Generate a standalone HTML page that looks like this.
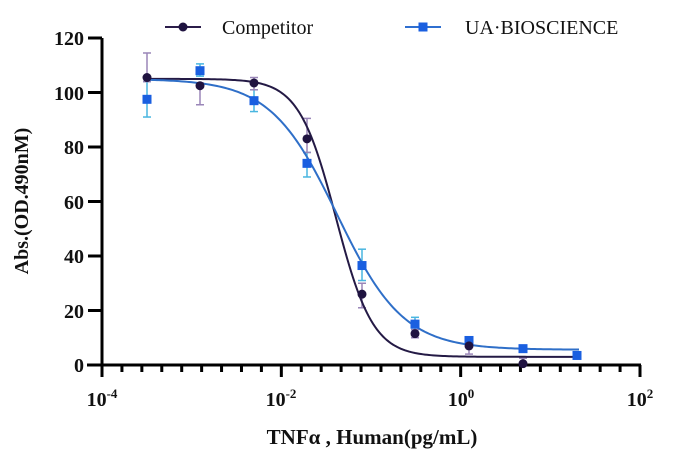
<!DOCTYPE html>
<html><head><meta charset="utf-8"><style>
html,body{margin:0;padding:0;background:#fff;}
svg{display:block;}
</style></head><body>
<svg id="s" width="682" height="466" xmlns="http://www.w3.org/2000/svg" font-family="Liberation Serif, serif">
<rect width="682" height="466" fill="#fff"/>
<g id="ax" stroke="#000" stroke-width="3" fill="none"></g>
<g font-weight="bold" font-size="20" text-anchor="end" fill="#111">
<text x="84" y="45">120</text><text x="84" y="100">100</text><text x="84" y="154">80</text>
<text x="84" y="209">60</text><text x="84" y="263">40</text><text x="84" y="318">20</text><text x="84" y="372">0</text>
</g>
<g font-weight="bold" font-size="20" fill="#111" text-anchor="middle">
<text x="102" y="406">10<tspan font-size="13" dy="-8">-4</tspan></text>
<text x="281" y="406">10<tspan font-size="13" dy="-8">-2</tspan></text>
<text x="461" y="406">10<tspan font-size="13" dy="-8">0</tspan></text>
<text x="640" y="406">10<tspan font-size="13" dy="-8">2</tspan></text>
<text x="372" y="444" font-size="21">TNFα , Human(pg/mL)</text>
<text transform="translate(28,201) rotate(-90)">Abs.(OD.490nM)</text>
</g>
<g font-size="20" fill="#111">
<line x1="165" y1="27" x2="201" y2="27" stroke="#2b1d4a" stroke-width="2"/>
<circle cx="183" cy="27" r="4.5" fill="#1f1340"/>
<text x="222" y="34">Competitor</text>
<line x1="405" y1="27" x2="441" y2="27" stroke="#2f6fd0" stroke-width="2"/>
<rect x="418.5" y="22.5" width="9" height="9" fill="#1a5fe0"/>
<text x="465" y="34">UA·BIOSCIENCE</text>
</g>
<g id="data"></g>
</svg>
<script>
var ns="http://www.w3.org/2000/svg";
function Y(v){return 365-v*2.725;}
function el(p,t,a){var e=document.createElementNS(ns,t);for(var k in a)e.setAttribute(k,a[k]);p.appendChild(e);return e;}
var ax=document.getElementById('ax');
el(ax,'line',{x1:102,y1:38,x2:102,y2:366});
el(ax,'line',{x1:87,y1:365,x2:641,y2:365});
for(var v=0;v<=120;v+=20)el(ax,'line',{x1:88,y1:Y(v),x2:102,y2:Y(v)});
for(var i=0;i<=27;i++){var x=102+i*538/27;var maj=(i%9==0);el(ax,'line',{x1:x,y1:365,x2:x,y2:maj?377:372});}
var d=document.getElementById('data');
function curve(top,bot,c,h,col){var p='';for(var x=147;x<=579;x+=2){var v=bot+(top-bot)/(1+Math.pow(10,(x-c)*h/89.5));p+=(x==147?'M':'L')+x+','+Y(v).toFixed(2);}el(d,'path',{d:p,stroke:col,'stroke-width':2,fill:'none'});}
function eb(x,lo,hi,col){el(d,'line',{x1:x,y1:Y(lo),x2:x,y2:Y(hi),stroke:col,'stroke-width':1.5});[lo,hi].forEach(function(v){el(d,'line',{x1:x-4,y1:Y(v),x2:x+4,y2:Y(v),stroke:col,'stroke-width':1.5});});}
var xs=[147,200,254,307,362,415,469,523,577];
var c1=[[105.5,104,114.5],[102.5,95.5,103.5],[103.5,101,105.5],[83,78,90.5],[26,21,30],[11.5,10,13],[7,4,8.5],[0.5,0,2.5]];
var c2=[[97.5,91,104],[108,106,110.5],[97,93,101],[74,69,78],[36.5,31,42.5],[15,13,17.5],[9,7,10],[6,5,7],[3.5,3,4]];
c2.forEach(function(p,i){eb(xs[i],p[1],p[2],'#49b6e0');});
c1.forEach(function(p,i){eb(xs[i],p[1],p[2],'#9a86b8');});
curve(105,3,336,2.1,'#241a45');
curve(105,5.6,337,1.17,'#2f6fc8');
c2.forEach(function(p,i){el(d,'rect',{x:xs[i]-4.5,y:Y(p[0])-4.5,width:9,height:9,fill:'#1a5fe0'});});
c1.forEach(function(p,i){el(d,'circle',{cx:xs[i],cy:Y(p[0]),r:4.5,fill:'#1f1340'});});
</script>
</body></html>
